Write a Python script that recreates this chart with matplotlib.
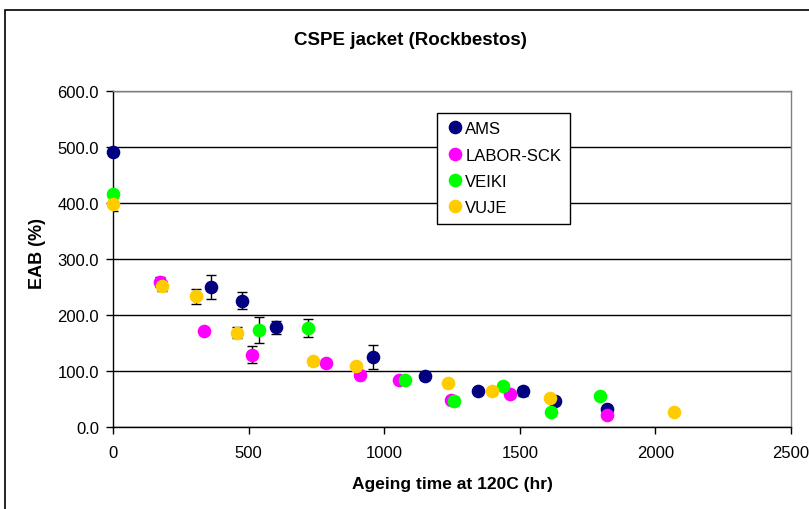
import numpy as np
import matplotlib
matplotlib.use("Agg")
import matplotlib.pyplot as plt
from matplotlib.patches import Rectangle

plt.rcParams['font.family'] = ['Liberation Sans', 'DejaVu Sans']

# ageing time (hr), elongation at break (%), and error bar half-widths per lab
ams_t = [0, 360, 476, 600, 960, 1151, 1345, 1512, 1631, 1823]
ams_eab = [490, 250, 225, 178, 125, 91, 64, 64, 46, 32]
ams_err = [6, 21, 15, 12, 22, 8, 4, 8, 4, 6]

labor_t = [173, 336, 512, 785, 910, 1055, 1245, 1464, 1823]
labor_eab = [259, 172, 129, 115, 92, 83, 49, 59, 22]
labor_err = [9, 3, 15, 4, 3, 3, 4, 3, 3]

veiki_t = [0, 538, 718, 1077, 1257, 1438, 1616, 1796]
veiki_eab = [415, 173, 177, 83, 46, 74, 26, 55]
veiki_err = [6, 24, 16, 3, 7, 3, 3, 3]

vuje_t = [0, 182, 305, 459, 739, 897, 1235, 1397, 1613, 2069]
vuje_eab = [398, 251, 233, 168, 117, 109, 79, 64, 51, 26]
vuje_err = [12, 9, 14, 10, 6, 4, 3, 4, 3, 3]

series = [
    ("AMS", ams_t, ams_eab, ams_err, "#000080"),
    ("LABOR-SCK", labor_t, labor_eab, labor_err, "#FF00FF"),
    ("VEIKI", veiki_t, veiki_eab, veiki_err, "#00FF00"),
    ("VUJE", vuje_t, vuje_eab, vuje_err, "#FFCC00"),
]

W, H = 809, 510
fig = plt.figure(figsize=(W / 100, H / 100), dpi=100)
ax = fig.add_axes([113 / W, 1 - 428 / H, 678 / W, 336.3 / H])

# chart frame, running off the right and bottom edges
fig.patches.append(Rectangle((5 / W, -0.1), 1.2, 1 - 10.5 / H + 0.1,
                             transform=fig.transFigure, fill=False,
                             edgecolor='black', linewidth=1.2))

for name, t, eab, err, col in series:
    ax.errorbar(t, eab, yerr=err, fmt='none', ecolor='black', elinewidth=1.0,
                capsize=3.5, capthick=1.0, zorder=3)
    ax.plot(t, eab, 'o', color=col, markersize=8.8, label=name, zorder=4,
            clip_on=False)

ax.set_xlim(0, 2500)
ax.set_ylim(0, 600)
ax.set_xticks(np.arange(0, 2501, 500))
ax.set_yticks(np.arange(0, 601, 100))
ax.set_yticklabels(["%.1f" % v for v in np.arange(0, 601, 100)])
ax.grid(axis='y', color='black', linewidth=1.0)
ax.set_axisbelow(True)
ax.tick_params(direction='out', length=5, width=1, labelsize=12)
ax.tick_params(axis='x', pad=8)
ax.tick_params(axis='y', pad=5)

ax.spines['left'].set_color('black')
ax.spines['bottom'].set_color('black')
ax.spines['top'].set_color('#808080')
ax.spines['right'].set_color('#808080')
for s in ax.spines.values():
    s.set_linewidth(1.0)

fig.text(410 / W, 1 - 45 / H, "CSPE jacket (Rockbestos)", fontsize=13.5,
         fontweight='bold', ha='center', va='baseline')
ax.set_xlabel("Ageing time at 120C (hr)", fontsize=12.5, fontweight='bold')
ax.xaxis.set_label_coords(0.5, -0.146)
ax.set_ylabel("EAB (%)", fontsize=13, fontweight='bold')
ax.yaxis.set_label_coords(-0.099, 0.52)

leg = ax.legend(loc='upper left', bbox_to_anchor=(0.478, 0.934), fontsize=12,
                frameon=True, fancybox=False, edgecolor='black', framealpha=1,
                handletextpad=0.1, handlelength=1.1, borderpad=0.5,
                labelspacing=0.68, borderaxespad=0)
leg.get_frame().set_linewidth(1.0)

fig.savefig("out.png", dpi=100)
